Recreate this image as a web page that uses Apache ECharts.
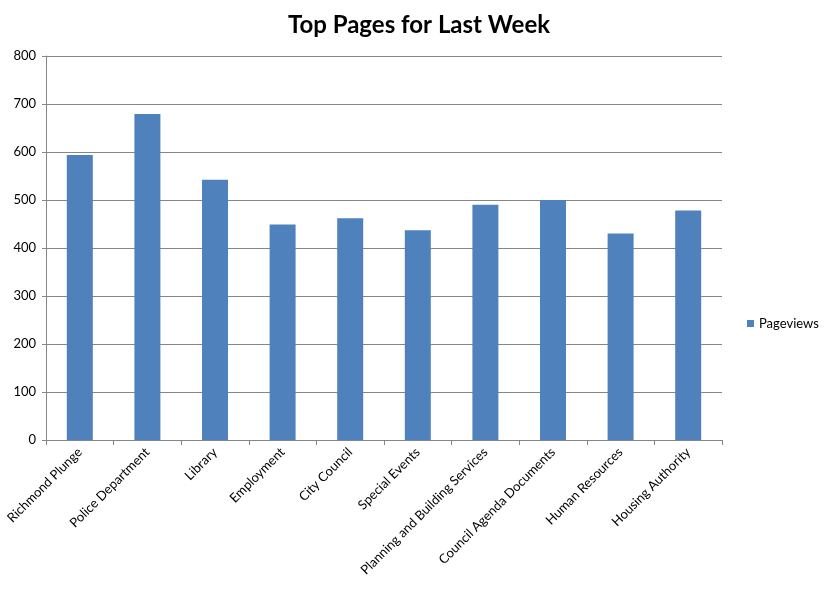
<!DOCTYPE html>
<html>
<head>
<meta charset="utf-8">
<script src="https://cdn.jsdelivr.net/npm/echarts@6/dist/echarts.min.js"></script>
<style>html,body{margin:0;padding:0;background:#fff}#c{width:826px;height:591px}</style>
</head>
<body>
<div id="c"></div>
<script>
const categories = ["Richmond Plunge","Police Department","Library","Employment","City Council","Special Events","Planning and Building Services","Council Agenda Documents","Human Resources","Housing Authority"];
const pageviews = [594,679,542,449,462,437,490,500,430,478];
const seriesName = "Pageviews";
const titleText = "Top Pages for Last Week";

const chart = echarts.init(document.getElementById('c'));
const font = "Lato, 'Open Sans', sans-serif";
chart.setOption({
  animation:false,
  title:{text:titleText,top:8,left:414,textAlign:'center',textStyle:{fontFamily:font,fontSize:24,fontWeight:'bold',color:'#000'}},
  legend:{data:[seriesName],orient:'vertical',left:742,top:312,itemWidth:7,itemHeight:7,icon:'rect',itemGap:4,textStyle:{fontFamily:font,fontSize:13,color:'#000'}},
  grid:{left:46,right:104,top:56,bottom:151,containLabel:false},
  xAxis:{type:'category',data:categories,
    axisLine:{lineStyle:{color:'#868686',width:1}},
    axisTick:{show:true,alignWithLabel:false,length:5,lineStyle:{color:'#868686'}},
    axisLabel:{rotate:45,interval:0,fontFamily:font,fontSize:13,color:'#000',margin:10}
  },
  yAxis:{type:'value',min:0,max:800,interval:100,
    axisLine:{show:true,lineStyle:{color:'#868686'}},
    axisTick:{show:true,length:4,lineStyle:{color:'#868686'}},
    splitLine:{lineStyle:{color:'#868686',width:1}},
    axisLabel:{fontFamily:font,fontSize:13,color:'#000',margin:10}
  },
  series:[{name:seriesName,type:'bar',data:pageviews,barWidth:26,itemStyle:{color:'#4F81BD'}}]
});
</script>
</body>
</html>
